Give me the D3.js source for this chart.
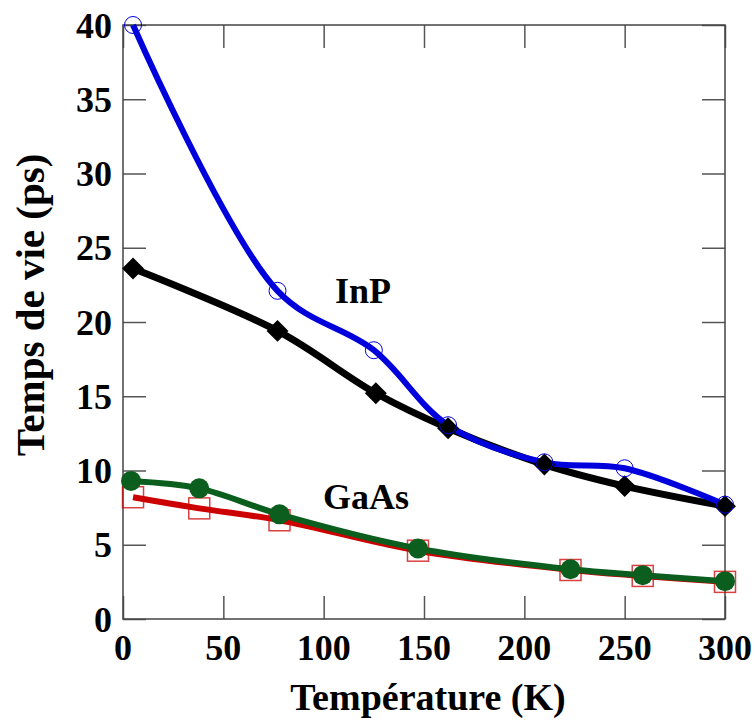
<!DOCTYPE html>
<html>
<head>
<meta charset="utf-8">
<script src="https://cdn.jsdelivr.net/npm/d3@7/dist/d3.min.js"></script>
<style>
  html, body { margin: 0; padding: 0; background: #fff; }
  text { font-family: "Liberation Serif", "Times New Roman", serif; font-weight: bold; fill: #000; }
</style>
</head>
<body>
<svg id="chart" width="755" height="722"></svg>
<script>
// ---- data ----
const inpCircleT = [5, 77, 125, 162, 210, 250, 300];
const inpCircleV = [40.0, 22.1, 18.1, 13.05, 10.55, 10.15, 7.7];

const inpDiamondT = [5, 77, 126, 162, 210, 250, 300];
const inpDiamondV = [23.6, 19.4, 15.2, 12.85, 10.4, 8.95, 7.6];

const gaasSquareT = [5, 38, 78, 147, 223, 259, 300];
const gaasSquareV = [8.2, 7.45, 6.65, 4.6, 3.3, 2.9, 2.5];

const gaasDotT = [4, 38, 78, 147, 223, 259, 300];
const gaasDotV = [9.3, 8.8, 7.05, 4.75, 3.35, 2.95, 2.55];

const xTicks = [0, 50, 100, 150, 200, 250, 300];
const yTicks = [0, 5, 10, 15, 20, 25, 30, 35, 40];

const xTitle = "Température (K)";
const yTitle = "Temps de vie (ps)";
const labelInP = "InP";
const labelGaAs = "GaAs";

// ---- layout ----
const svg = d3.select("#chart");
const L = 123, R = 725, T = 25, B = 619;
const x = d3.scaleLinear().domain([0, 300]).range([L, R]);
const y = d3.scaleLinear().domain([0, 40]).range([B, T]);
const tickLen = 23;

const zip = (a, b) => a.map((v, i) => [v, b[i]]);
const line = d3.line().x(d => x(d[0])).y(d => y(d[1])).curve(d3.curveCatmullRom.alpha(0.5));

// ---- frame & ticks ----
const axisColor = "#444";
const gAx = svg.append("g");
gAx.append("g").attr("transform", `translate(0,${B})`)
  .call(d3.axisBottom(x).tickValues(xTicks).tickSize(-tickLen).tickFormat(""))
  .call(g => g.select(".domain").remove());
gAx.append("g").attr("transform", `translate(0,${T})`)
  .call(d3.axisTop(x).tickValues(xTicks).tickSize(-tickLen).tickFormat(""))
  .call(g => g.select(".domain").remove());
gAx.append("g").attr("transform", `translate(${L},0)`)
  .call(d3.axisLeft(y).tickValues(yTicks).tickSize(-tickLen).tickFormat(""))
  .call(g => g.select(".domain").remove());
gAx.append("g").attr("transform", `translate(${R},0)`)
  .call(d3.axisRight(y).tickValues(yTicks).tickSize(-tickLen).tickFormat(""))
  .call(g => g.select(".domain").remove());
gAx.selectAll(".tick line").attr("stroke", "#555").attr("stroke-width", 1.5);

svg.append("rect").attr("x", L).attr("y", T).attr("width", R - L).attr("height", B - T)
  .attr("fill", "none").attr("stroke", axisColor).attr("stroke-width", 1.5);

// tick labels
svg.append("g").selectAll("text").data(xTicks).join("text")
  .attr("x", d => x(d)).attr("y", 660)
  .attr("text-anchor", "middle").attr("font-size", 36).text(d => d);
svg.append("g").selectAll("text").data(yTicks).join("text")
  .attr("x", 112).attr("y", d => y(d)).attr("dy", "0.35em")
  .attr("text-anchor", "end").attr("font-size", 36).text(d => d);

// titles
svg.append("text").attr("x", 428).attr("y", 710).attr("text-anchor", "middle")
  .attr("font-size", 38).text(xTitle);
svg.append("text").attr("transform", "translate(44,305) rotate(-90)")
  .attr("text-anchor", "middle").attr("font-size", 41).text(yTitle);

// ---- series ----
const inpC = zip(inpCircleT, inpCircleV);
const inpD = zip(inpDiamondT, inpDiamondV);
const gaS = zip(gaasSquareT, gaasSquareV);
const gaD = zip(gaasDotT, gaasDotV);

const blue = "#0000dd", red = "#cc0000", green = "#0b5e1e";

// GaAs
svg.append("g").selectAll("rect").data(gaS).join("rect")
  .attr("x", d => x(d[0]) - 10.5).attr("y", d => y(d[1]) - 10.5)
  .attr("width", 21).attr("height", 21)
  .attr("fill", "none").attr("stroke", red).attr("stroke-opacity", 0.75).attr("stroke-width", 1.5);
svg.append("path").datum(gaS).attr("d", line)
  .attr("fill", "none").attr("stroke", red).attr("stroke-width", 6).attr("stroke-linejoin", "round");
svg.append("path").datum(gaD).attr("d", line)
  .attr("fill", "none").attr("stroke", green).attr("stroke-width", 6).attr("stroke-linejoin", "round");
svg.append("g").selectAll("circle").data(gaD).join("circle")
  .attr("cx", d => x(d[0])).attr("cy", d => y(d[1])).attr("r", 10)
  .attr("fill", green);

// InP
svg.append("path").datum(inpD).attr("d", line)
  .attr("fill", "none").attr("stroke", "#000").attr("stroke-width", 7).attr("stroke-linejoin", "round");
svg.append("path").datum(inpC).attr("d", line)
  .attr("fill", "none").attr("stroke", blue).attr("stroke-width", 6).attr("stroke-linejoin", "round");
const diamond = d3.symbol().type(d3.symbolSquare).size(240);
svg.append("g").selectAll("path").data(inpD).join("path")
  .attr("d", diamond)
  .attr("transform", d => `translate(${x(d[0])},${y(d[1])}) rotate(45)`)
  .attr("fill", "#000");
svg.append("g").selectAll("circle").data(inpC).join("circle")
  .attr("cx", d => x(d[0])).attr("cy", d => y(d[1])).attr("r", 8.5)
  .attr("fill", "none").attr("stroke", blue).attr("stroke-width", 1);

// labels
svg.append("text").attr("x", 335).attr("y", 303).attr("font-size", 36).text(labelInP);
svg.append("text").attr("x", 323).attr("y", 509).attr("font-size", 36).text(labelGaAs);
</script>
</body>
</html>
